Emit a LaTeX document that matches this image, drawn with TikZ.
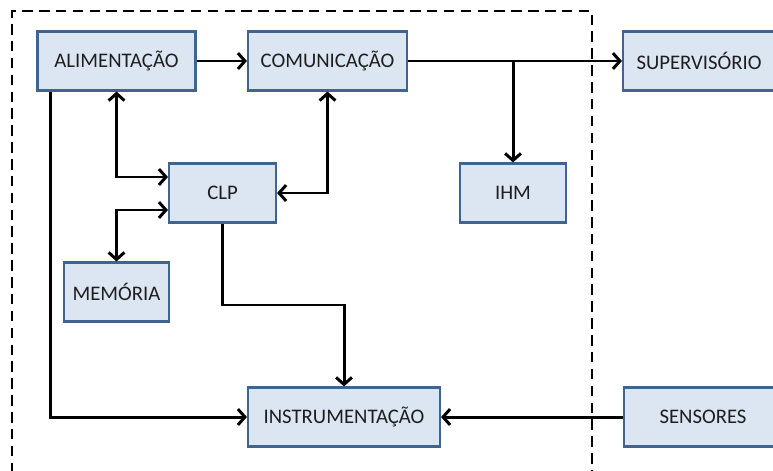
\documentclass[tikz,border=0pt]{standalone}
\usepackage{fontspec}
\setmainfont{Carlito}
\usetikzlibrary{arrows.meta}

\definecolor{fundo}{HTML}{DCE6F2}
\definecolor{borda}{HTML}{41648F}
\definecolor{texto}{HTML}{1E1E1E}

\tikzset{
    bloco/.style={draw=borda, fill=fundo, line width=1.2pt, text=texto,
        minimum height=59*0.02cm, inner sep=0pt,
        font=\fontsize{11.8}{14}\selectfont},
    flecha/.style={line width=1.7pt, -{Straight Barb[length=4pt,width=9pt]}},
    flecha2/.style={line width=1.7pt, {Straight Barb[length=4pt,width=9pt]}-{Straight Barb[length=4pt,width=9pt]}},
    limite/.style={line width=1pt, dash pattern=on 6pt off 3.6pt}
}

\begin{document}
\begin{tikzpicture}[x=0.02cm, y=-0.02cm]

    \useasboundingbox (0,0) rectangle (773,470);

    \begin{scope}
        \clip (0,0) rectangle (773,470);

        % Limite do sistema
        \draw[limite] (12,490) -- (12,11) -- (592,11) -- (592,490);

        % Blocos
        \node[bloco, minimum width=158*0.02cm] (alim)   at (116.5,61) {ALIMENTAÇÃO};
        \node[bloco, minimum width=159*0.02cm] (comun)  at (327.5,61) {COMUNICAÇÃO};
        \node[bloco, minimum width=158*0.02cm, text width=152*0.02cm, align=left] (superv) at (702,61) {\hspace{6pt}SUPERVISÓRIO};
        \node[bloco, minimum width=107*0.02cm] (clp)    at (222.5,193) {CLP};
        \node[bloco, minimum width=106*0.02cm] (ihm)    at (513,193) {IHM};
        \node[bloco, minimum width=105*0.02cm] (mem)    at (116.5,292) {MEMÓRIA};
        \node[bloco, minimum width=192*0.02cm] (instr)  at (344,417) {INSTRUMENTAÇÃO};
        \node[bloco, minimum width=158*0.02cm] (sens)   at (703,417) {SENSORES};

        % Ligacoes
        \draw[flecha] (alim) -- (comun);
        \draw[flecha] (comun) -- (superv);
        \draw[flecha] (ihm |- comun.east) -- (ihm.north);
        \draw[flecha] ([xshift=14*0.02cm]alim.south west) |- (instr.west);
        \draw[flecha2] (alim.south) |- ([yshift=16*0.02cm]clp.west);
        \draw[flecha2] (mem.north) |- ([yshift=-17*0.02cm]clp.west);
        \draw[flecha2] (comun.south) |- (clp.east);
        \draw[flecha] (clp.south) -- (clp.south |- 0,305) -| (instr.north);
        \draw[flecha] (sens) -- (instr);
    \end{scope}

\end{tikzpicture}
\end{document}
